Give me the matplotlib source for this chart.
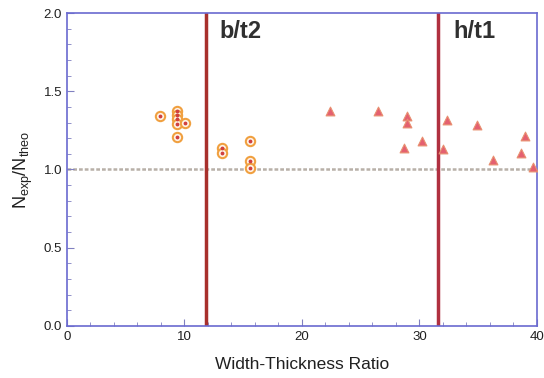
import matplotlib
matplotlib.use('Agg')
import matplotlib.pyplot as plt
from matplotlib.ticker import MultipleLocator

plt.rcParams['font.family'] = ['Liberation Sans', 'DejaVu Sans']

# b/t2 data (circles)
bt_x = [7.9, 9.36, 9.36, 9.36, 9.36, 10.06, 9.36, 13.17, 13.17, 15.6, 15.6, 15.6]
bt_y = [1.344, 1.376, 1.348, 1.321, 1.289, 1.30, 1.21, 1.135, 1.107, 1.182, 1.056, 1.011]

# h/t1 data (triangles)
ht_x = [22.38, 26.5, 28.97, 28.97, 28.7, 30.24, 32.34, 32.03, 34.87, 36.3, 39.0, 38.66, 39.66]
ht_y = [1.376, 1.376, 1.344, 1.30, 1.135, 1.184, 1.314, 1.131, 1.286, 1.059, 1.214, 1.107, 1.018]

limit_bt = 11.83
limit_ht = 31.57

fig = plt.figure(figsize=(5.44, 3.78), dpi=100)
ax = fig.add_axes([0.123, 0.1376, 0.864, 0.828])

ax.axhline(1.0, color='#b8b0a8', lw=1.8, ls=(0, (1.5, 0.8)), zorder=1)
ax.axvline(limit_bt, color='#a8302c', lw=2.5, zorder=2)
ax.axvline(limit_ht, color='#b03040', lw=2.5, zorder=2)

ax.scatter(bt_x, bt_y, s=45, facecolor='#fff4e8', edgecolor='#f0a040', lw=1.5, zorder=3)
ax.scatter(bt_x, bt_y, s=3, color='#d04040', zorder=4)
ax.scatter(ht_x, ht_y, marker='^', s=40, facecolor='#e46070', edgecolor='#e89070', lw=0.8, zorder=3)

ax.text(13.0, 1.88, 'b/t2', fontsize=17, fontweight='bold', color='#303030', va='center')
ax.text(32.9, 1.88, 'h/t1', fontsize=17, fontweight='bold', color='#303030', va='center')

ax.set_xlim(0, 40)
ax.set_ylim(0, 2.0)
ax.xaxis.set_major_locator(MultipleLocator(10))
ax.xaxis.set_minor_locator(MultipleLocator(2))
ax.yaxis.set_major_locator(MultipleLocator(0.5))
ax.yaxis.set_minor_locator(MultipleLocator(0.1))
ax.yaxis.set_major_formatter(plt.FormatStrFormatter('%.1f'))

for s in ax.spines.values():
    s.set_color('#6a6ad0')
    s.set_linewidth(1.2)
ax.tick_params(which='both', direction='in', color='#8080c0', labelsize=9.5, labelcolor='#202020')
ax.tick_params(which='major', length=5)
ax.tick_params(which='minor', length=3)

ax.set_xlabel('Width-Thickness Ratio', fontsize=12.5, labelpad=10, color='#202020')
ax.set_ylabel(r'$\mathregular{N_{exp}/N_{theo}}$', fontsize=13, labelpad=6, color='#202020')

fig.savefig('out.png', dpi=100)
